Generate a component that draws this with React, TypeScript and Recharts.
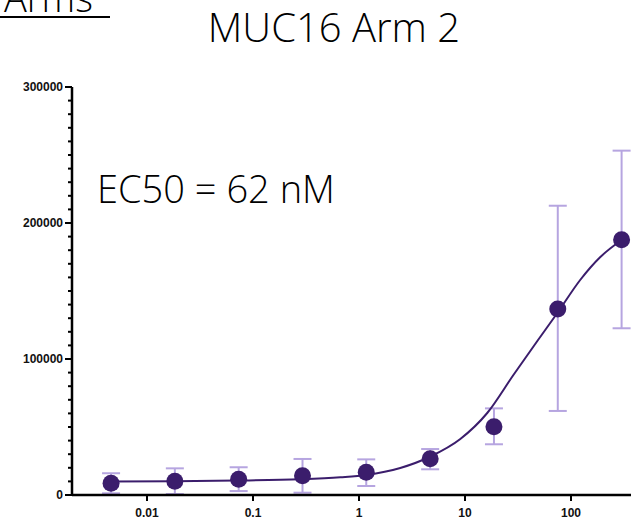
import React from "react";
import { ComposedChart, XAxis, YAxis, Scatter, Line, ErrorBar } from "recharts";

// concentration (nM), 4-fold dilution
const doses = [0.00458, 0.0183, 0.0732, 0.293, 1.17, 4.69, 18.75, 75, 300];
const means = [8600, 10100, 11500, 14200, 16700, 26700, 50200, 136800, 187700];
const upper = [16000, 19600, 20400, 26500, 26200, 33800, 63700, 212700, 253200];
const lower = [1250, 700, 2900, 1700, 6600, 18900, 37300, 61800, 122600];

// fitted curve
const fitX = [0.00458, 0.0181, 0.0711, 0.279, 0.667, 1.17, 2.45, 4.61, 9.03, 16.2, 28.6, 48.1, 74.3, 122, 189, 300];
const fitY = [9930, 10150, 10590, 11540, 13010, 14710, 19850, 27940, 41180, 60290, 88240, 113240, 133820, 158090, 175000, 187500];

const xTicks = [0.01, 0.1, 1, 10, 100];
const yTicks = [0, 10000, 20000, 30000, 40000, 50000, 60000, 70000, 80000, 90000, 100000,
  110000, 120000, 130000, 140000, 150000, 160000, 170000, 180000, 190000, 200000,
  210000, 220000, 230000, 240000, 250000, 260000, 270000, 280000, 290000, 300000];

const points = doses.map((x, i) => ({
  x,
  y: means[i],
  err: [means[i] - lower[i], upper[i] - means[i]],
}));
const curve = fitX.map((x, i) => ({ x, y: fitY[i] }));

const DARK = "#3b1d6c";
const LAV = "#b6a5e0";
const tickFont = "'Liberation Sans', Arial, sans-serif";
const bigFont = "'Open Sans', 'DejaVu Sans', sans-serif";

const YTick = (props: any) => {
  const { x, y, payload } = props;
  const major = payload.value % 100000 === 0;
  const len = major ? 7 : 4;
  return (
    <g>
      <line x1={x - len} x2={x} y1={y} y2={y} stroke="#000" strokeWidth={2} />
      {major && (
        <text x={x - 9} y={y} dy={4} textAnchor="end" fontSize={12} fontWeight="bold" fontFamily={tickFont} fill="#111">
          {payload.value}
        </text>
      )}
    </g>
  );
};

const XTick = (props: any) => {
  const { x, y, payload } = props;
  return (
    <g>
      <line x1={x} x2={x} y1={y} y2={y + 6} stroke="#000" strokeWidth={2} />
      <text x={x} y={y + 22} textAnchor="middle" fontSize={12} fontWeight="bold" fontFamily={tickFont} fill="#111">
        {payload.value}
      </text>
    </g>
  );
};

const Dot = (props: any) => {
  const { cx, cy } = props;
  return <circle cx={cx} cy={cy} r={8.5} fill={DARK} />;
};

export default function App() {
  return (
    <div style={{ position: "absolute", left: 0, top: 0, width: 631, height: 526, background: "#fff", overflow: "hidden" }}>
      <ComposedChart width={631} height={526} margin={{ top: 87, right: 0, bottom: 0, left: 0 }}>
        <XAxis
          type="number"
          dataKey="x"
          scale="log"
          domain={[0.00196, 368]}
          ticks={xTicks}
          allowDataOverflow
          height={31}
          tickSize={0}
          tickMargin={0}
          tick={<XTick />}
          axisLine={{ stroke: "#000", strokeWidth: 2.5 }}
          tickLine={false}
        />
        <YAxis
          type="number"
          dataKey="y"
          domain={[0, 300000]}
          ticks={yTicks}
          interval={0}
          width={72}
          tickSize={0}
          tickMargin={0}
          tick={<YTick />}
          axisLine={{ stroke: "#000", strokeWidth: 2.5 }}
          tickLine={false}
        />
        <Scatter data={points} dataKey="y" shape={() => <g />} isAnimationActive={false}>
          <ErrorBar dataKey="err" direction="y" width={9} stroke={LAV} strokeWidth={2} />
        </Scatter>
        <Line
          data={curve}
          dataKey="y"
          type="monotone"
          stroke={DARK}
          strokeWidth={2}
          dot={false}
          activeDot={false}
          isAnimationActive={false}
        />
        <Scatter data={points} dataKey="y" shape={<Dot />} isAnimationActive={false} />
      </ComposedChart>
      <svg width={631} height={526} style={{ position: "absolute", left: 0, top: 0, pointerEvents: "none" }}>
        <text x={4} y={12} fontSize={38} fontFamily={bigFont} fontWeight={300} fill="#000">Arms</text>
        <line x1={0} x2={110} y1={17} y2={17} stroke="#000" strokeWidth={2} />
        <text x={334} y={42} textAnchor="middle" fontSize={40} fontFamily={bigFont} fontWeight={300} fill="#000">
          MUC16 Arm 2
        </text>
        <text x={97} y={203} fontSize={38} fontFamily={bigFont} fontWeight={300} fill="#000">
          EC50 = 62 nM
        </text>
      </svg>
    </div>
  );
}
